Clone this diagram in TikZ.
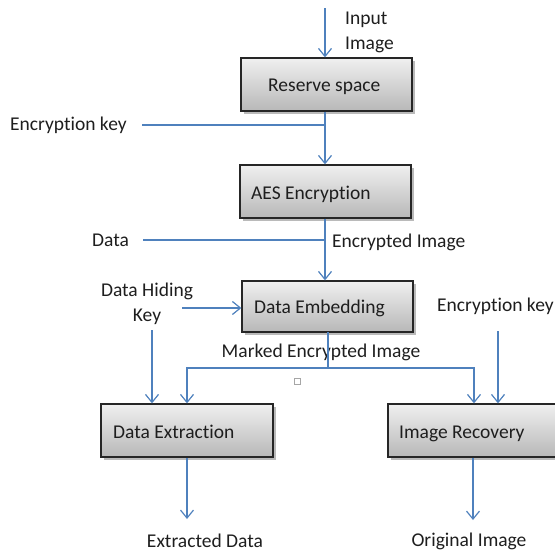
\documentclass[tikz,border=0pt]{standalone}
\usepackage{fontspec}
\setmainfont{Carlito}[Ligatures=NoCommon]
\usetikzlibrary{arrows.meta,shadows}
\definecolor{lnblue}{RGB}{79,129,189}
\definecolor{txt}{RGB}{30,30,30}
\tikzset{
  procbox/.style={draw=black!85, line width=1.3pt, top color=white!94!black, bottom color=white!72!black,
    minimum height=53pt, minimum width=171pt, inner sep=0pt, drop shadow={shadow xshift=2.5pt, shadow yshift=-2.5pt, opacity=.45, fill=black!60}},
  boxtxt/.style={text=txt, font=\fontsize{19.5}{23}\selectfont, inner sep=0pt, anchor=base west},
  lbl/.style={text=txt, font=\fontsize{19.5}{25}\selectfont, inner sep=0pt},
  arr/.style={draw=lnblue, line width=1.2pt, -{Straight Barb[length=8pt,width=13pt,line width=1.2pt]}},
  ln/.style={draw=lnblue, line width=1.2pt},
}
\begin{document}
\begin{tikzpicture}[x=1pt,y=-1pt]
\useasboundingbox (0,0) rectangle (555,552);
% boxes
\node[procbox] (rs) at (326.5,84.5) {};
\node[procbox] (aes) at (325.5,191.5) {};
\node[procbox, minimum height=51pt] (emb) at (327.5,306.5) {};
\node[procbox, minimum width=172pt] (ext) at (187,430.5) {};
\node[procbox, minimum width=172pt] (rec) at (474,430.5) {};
% box texts
\node[boxtxt] (rst) at (268,91) {Reserve space};
\node[boxtxt] (aest) at (251,199) {AES Encryption};
\node[boxtxt] (embt) at (254,313) {Data Embedding};
\node[boxtxt] (extt) at (113,438) {Data Extraction};
\node[boxtxt] (rect) at (399,438) {Image Recovery};
% labels
\node[lbl, anchor=west, align=left] (inp) at (345,32) {Input\\Image};
\node[lbl, anchor=west] (ek1) at (10,125) {Encryption key};
\node[lbl, anchor=west] (dat) at (92,240) {Data};
\node[lbl, anchor=west] (enc) at (332,242) {Encrypted Image};
\node[lbl, align=center] (hk) at (147,304) {Data Hiding\\Key};
\node[lbl] (mei) at (321,352) {Marked Encrypted Image};
\node[lbl, anchor=west] (ek2) at (437,306) {Encryption key};
\node[lbl] (exd) at (205,541) {Extracted Data};
\node[lbl] (ori) at (469,541) {Original Image};
% coordinates
\coordinate (in1) at (325,8);
\coordinate (ax) at (325,0);
\coordinate (k1) at (142,125);
\coordinate (k1e) at (325,125);
\coordinate (d1) at (143,240);
\coordinate (d1e) at (325,240);
\coordinate (hks) at (182,308);
\coordinate (hkv) at (152,330);
\coordinate (mx) at (328,332);
\coordinate (mj) at (328,368);
\coordinate (k2v) at (498,331);
\coordinate (exo) at (187,519);
\coordinate (reo) at (473,520);
% connectors
\draw[arr] (in1) -- (in1 |- rs.north);
\draw[arr] (rs.south -| ax) -- (aes.north -| ax);
\draw[ln] (k1) -- (k1e);
\draw[arr] (aes.south -| ax) -- (emb.north -| ax);
\draw[ln] (d1) -- (d1e);
\draw[arr] (hks) -- (hks -| emb.west);
\draw[arr] (hkv) -- (hkv |- ext.north);
\draw[ln] (mx) -- (mj);
\draw[arr] (mj) -| (ext.north);
\draw[arr] (mj) -| (rec.north);
\draw[arr] (k2v) -- (k2v |- rec.north);
\draw[arr] (ext.south) -- (exo);
\draw[arr] (reo |- rec.south) -- (reo);
% small marker square
\node[draw=black!35, line width=0.8pt, minimum size=6pt, inner sep=0pt] (sq) at (297,381) {};
\end{tikzpicture}
\end{document}
